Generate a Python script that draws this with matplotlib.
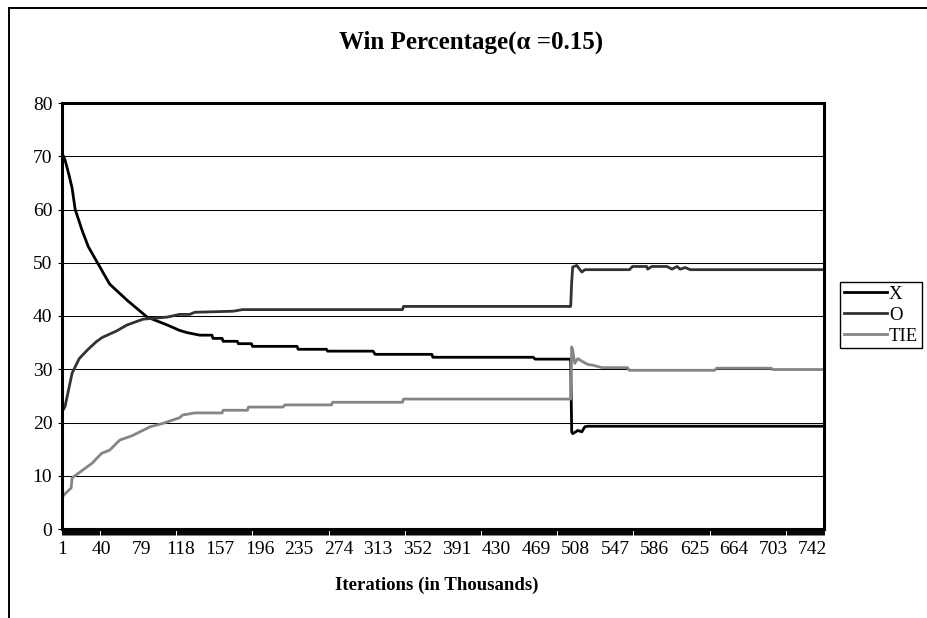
import numpy as np
import matplotlib
matplotlib.use("Agg")
import matplotlib.pyplot as plt
from matplotlib.lines import Line2D

# values (iteration index, percent)
x_iter = [1, 4, 8, 11, 14, 21, 27, 36, 48, 65, 85, 105, 117, 124, 137, 149, 150, 159, 160,
          174, 175, 188, 189, 233, 234, 262, 263, 308, 310, 366, 367, 466, 468, 503, 504,
          505, 510, 514, 517, 520, 753]
x_val = [70.6, 69.3, 66.4, 64, 60, 56, 53, 50, 46, 43, 39.8, 38.3, 37.3, 36.9, 36.4, 36.4,
         35.8, 35.8, 35.25, 35.25, 34.8, 34.8, 34.3, 34.3, 33.75, 33.75, 33.4, 33.4, 32.8,
         32.8, 32.25, 32.25, 31.9, 31.9, 18.25, 17.9, 18.5, 18.25, 19.2, 19.3, 19.3]

o_iter = [1, 4, 9, 11, 18, 26, 35, 41, 55, 65, 81, 105, 117, 127, 132, 170, 179, 337, 338,
          503, 504, 505, 509, 514, 517, 561, 564, 578, 579, 583, 598, 603, 608, 611, 616,
          621, 753]
o_val = [22, 23, 27.5, 29.3, 32, 33.6, 35.2, 36, 37.2, 38.3, 39.4, 39.8, 40.3, 40.3, 40.7,
         40.9, 41.2, 41.2, 41.8, 41.8, 46.4, 49.2, 49.5, 48.25, 48.7, 48.7, 49.3, 49.3,
         48.8, 49.3, 49.3, 48.8, 49.3, 48.8, 49.1, 48.7, 48.7]

tie_iter = [1, 5, 10, 11, 21, 31, 40, 48, 58, 70, 88, 100, 117, 120, 132, 159, 160, 184,
            185, 219, 221, 267, 268, 337, 338, 503, 504, 505, 507, 510, 515, 520, 525, 532,
            534, 559, 561, 645, 647, 701, 702, 753]
tie_val = [6.0, 6.8, 7.7, 9.6, 11, 12.4, 14.2, 14.8, 16.7, 17.5, 19.2, 19.8, 20.9, 21.4,
           21.8, 21.8, 22.3, 22.3, 22.9, 22.9, 23.3, 23.3, 23.8, 23.8, 24.4, 24.4, 34.2,
           33.6, 31.1, 32.0, 31.4, 30.9, 30.75, 30.4, 30.3, 30.3, 29.8, 29.8, 30.2, 30.2,
           29.95, 29.95]

x_labels = [1, 40, 79, 118, 157, 196, 235, 274, 313, 352, 391, 430, 469, 508, 547, 586,
            625, 664, 703, 742]
n_iter = 753

plt.rcParams['font.family'] = ['Liberation Serif', 'DejaVu Serif']

fig = plt.figure(figsize=(9.27, 6.18), dpi=100)
ax = fig.add_axes([62/927, 1-529/618, (824-62)/927, (529-103)/618])

ax.plot(x_iter, x_val, color='black', lw=2, label='X')
ax.plot(o_iter, o_val, color='#333333', lw=2, label='O')
ax.plot(tie_iter, tie_val, color='#858585', lw=2, label='TIE')

ax.set_xlim(1, n_iter)
ax.set_ylim(0, 80)
ax.set_yticks(range(0, 81, 10))
ax.set_xticks(x_labels)
ax.set_xticks(np.arange(1, n_iter + 1), minor=True)
ax.tick_params(axis='x', which='both', length=4, width=0.7, color='black',
               direction='out', labelsize=14, pad=5)
ax.tick_params(axis='y', length=3, width=0.8, labelsize=14, pad=4)
ax.grid(axis='y', color='black', lw=0.75)
ax.set_axisbelow(True)
for s in ax.spines.values():
    s.set_linewidth(2.2)

fig.text(471/927, 1-42/618, 'Win Percentage(α =0.15)', ha='center', va='center',
         fontsize=18, fontweight='bold')
fig.text(437/927, 1-585/618, 'Iterations (in Thousands)', ha='center', va='center',
         fontsize=13.5, fontweight='bold')

fig.legend(loc='upper left', bbox_to_anchor=(840/927, 1-282/618), fontsize=13.5,
           frameon=True, fancybox=False, edgecolor='black', framealpha=1,
           handlelength=2.3, handletextpad=0.1, labelspacing=0.2, borderpad=0.2,
           borderaxespad=0)

# outer chart border (cropped on right and bottom)
fig.add_artist(Line2D([8.5/927, 1], [1-7.5/618, 1-7.5/618], color='black', lw=1.4))
fig.add_artist(Line2D([8.5/927, 8.5/927], [0, 1-7.5/618], color='black', lw=1.4))

fig.savefig('out.png', dpi=100)
